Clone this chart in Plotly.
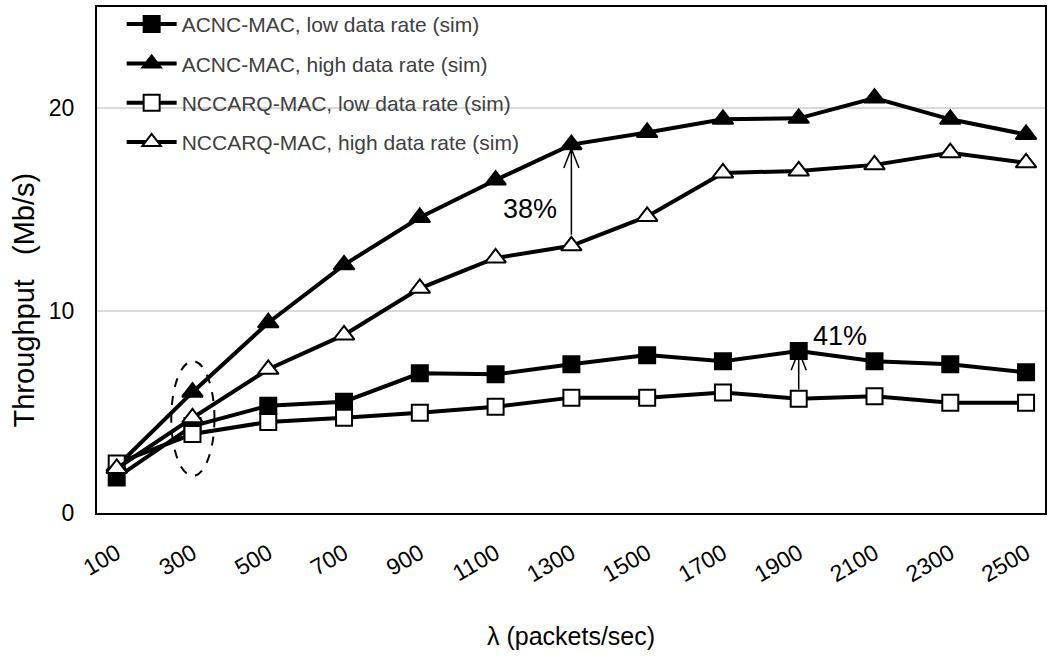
import plotly.graph_objects as go

# Offered load (packets/sec)
lam = ["100", "300", "500", "700", "900", "1100", "1300",
       "1500", "1700", "1900", "2100", "2300", "2500"]

# Throughput (Mb/s)
acnc_low = [1.75, 4.3, 5.3, 5.5, 6.9, 6.85, 7.35, 7.8, 7.5, 8.0, 7.5, 7.35, 6.95]
acnc_high = [2.3, 5.97, 9.4, 12.26, 14.6, 16.45, 18.2, 18.8, 19.45, 19.5, 20.5, 19.45, 18.7]
nccarq_low = [2.45, 3.9, 4.5, 4.7, 4.95, 5.25, 5.7, 5.7, 5.95, 5.65, 5.77, 5.45, 5.45]
nccarq_high = [2.2, 4.7, 7.1, 8.8, 11.1, 12.6, 13.2, 14.65, 16.8, 16.9, 17.2, 17.8, 17.3]

series = [
    ("ACNC-MAC, low data rate (sim)", acnc_low, "square", "black", 16),
    ("ACNC-MAC, high data rate (sim)", acnc_high, "triangle-up", "black", 18),
    ("NCCARQ-MAC, low data rate (sim)", nccarq_low, "square", "white", 16),
    ("NCCARQ-MAC, high data rate (sim)", nccarq_high, "triangle-up", "white", 18),
]

FONT = "Liberation Sans, Arial, sans-serif"

fig = go.Figure()
for i, (name, vals, sym, fill, size) in enumerate(series):
    fig.add_trace(go.Scatter(
        x=lam, y=vals, name=name, mode="lines+markers",
        legendgroup=f"g{i}",
        line=dict(color="black", width=4),
        marker=dict(symbol=sym, size=size, color=fill,
                    line=dict(color="black", width=2)),
    ))

# Improvement arrows (category index on x)
def arrow(xi, y0, y1, dx=0.1, dy=0.95):
    return (f"M {xi},{y0} L {xi},{y1} "
            f"M {xi - dx},{y1 - dy} L {xi},{y1} L {xi + dx},{y1 - dy}")

fig.add_shape(type="path", path=arrow(6, 13.75, 18.0), xref="x", yref="y",
              line=dict(color="black", width=1.5))
fig.add_shape(type="path", path=arrow(9, 6.1, 8.0), xref="x", yref="y",
              line=dict(color="black", width=1.5))

# Dashed ellipse around the 300 packets/sec points
fig.add_shape(type="circle", xref="x", yref="y",
              x0=0.72, x1=1.29, y0=1.83, y1=7.5,
              line=dict(color="black", width=2, dash="dash"))

fig.add_annotation(x=5.45, y=15.0, text="38%", showarrow=False,
                   font=dict(size=27, color="black", family=FONT))
fig.add_annotation(x=9.55, y=8.75, text="41%", showarrow=False,
                   font=dict(size=27, color="black", family=FONT))

# Axis titles
fig.add_annotation(xref="paper", yref="paper", x=0.5, y=-0.243,
                   xanchor="center", yanchor="middle",
                   text="λ (packets/sec)", showarrow=False,
                   font=dict(size=25, color="black", family=FONT))
fig.add_annotation(xref="paper", yref="paper", x=-0.077, y=0.42,
                   xanchor="center", yanchor="middle",
                   text="Throughput   (Mb/s)", showarrow=False, textangle=-90,
                   font=dict(size=29, color="black", family=FONT))

fig.update_layout(
    width=1049, height=659,
    margin=dict(l=97, r=2, t=7, b=146),
    paper_bgcolor="white", plot_bgcolor="white",
    font=dict(family=FONT, color="black"),
    showlegend=True,
    legend=dict(x=0.026, y=1.006, xanchor="left", yanchor="top",
                bgcolor="rgba(0,0,0,0)", itemwidth=50,
                tracegroupgap=9,
                font=dict(size=21, color="#404040", family=FONT)),
)
fig.update_xaxes(
    type="category", range=[-0.26, 12.25],
    showline=True, linecolor="black", linewidth=2, mirror=True,
    showgrid=False, ticks="", tickangle=-30,
    tickfont=dict(size=23, color="black"), ticklabelstandoff=16,
)
fig.update_yaxes(
    range=[0, 25], tickvals=[0, 10, 20],
    showline=True, linecolor="black", linewidth=2, mirror=True,
    showgrid=True, gridcolor="#d9d9d9", gridwidth=2, zeroline=False,
    ticks="", tickfont=dict(size=23, color="black"), ticklabelstandoff=16,
)

fig.write_html("out.html")
